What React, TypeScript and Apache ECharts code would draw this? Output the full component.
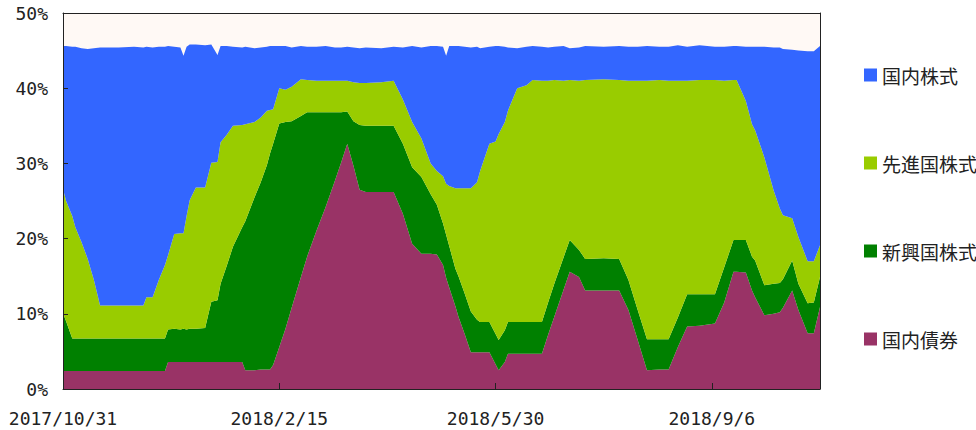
import React, { useEffect, useRef } from "react";
import * as echarts from "echarts";

// x positions are trading-day counts from 2017/10/31
const xTickLabels = ["2017/10/31", "2018/2/15", "2018/5/30", "2018/9/6"];
const seriesNames = ["国内債券", "新興国株式", "先進国株式", "国内株式"];
const legendOrder = ["国内株式", "先進国株式", "新興国株式", "国内債券"];
const colors = ["#993366", "#008000", "#99CC00", "#3366FF"];

const days = [
  0, 1, 3, 4, 6, 8, 10, 12, 18, 23, 26, 27, 29, 31, 33, 34, 36, 38, 39, 40,
  41, 43, 46, 48, 50, 51, 53, 55, 58, 59, 62, 64, 66, 67, 68, 70, 72, 74, 77, 79,
  82, 85, 88, 90, 92, 94, 96, 98, 103, 107, 110, 113, 116, 119, 121, 123, 124, 125, 127, 128,
  130, 132, 134, 135, 138, 140, 141, 143, 144, 147, 150, 152, 155, 157, 159, 162, 164, 167, 169, 175,
  180, 183, 186, 189, 193, 196, 199, 202, 206, 211, 214, 217, 218, 221, 223, 224, 227, 230, 232, 233,
  236, 238, 241, 243, 245,
];

const domesticBonds = [
  2.4, 2.4, 2.4, 2.4, 2.4, 2.4, 2.4, 2.4, 2.4, 2.4, 2.4, 2.4, 2.4, 2.4, 2.4, 3.6, 3.6, 3.6, 3.6, 3.6,
  3.6, 3.6, 3.6, 3.6, 3.6, 3.6, 3.6, 3.6, 3.6, 2.5, 2.5, 2.6, 2.6, 2.6, 3.2, 5.6, 8.0, 10.8, 14.9, 17.6,
  21.0, 24.2, 27.7, 30.1, 32.6, 29.7, 26.5, 26.2, 26.2, 26.2, 23.3, 19.3, 18.0, 18.0, 17.9, 16.5, 14.8, 13.5, 11.0, 9.6,
  7.3, 4.9, 4.9, 4.9, 4.9, 3.3, 2.5, 3.6, 4.7, 4.7, 4.7, 4.7, 4.7, 7.2, 9.6, 13.2, 15.6, 14.9, 13.1, 13.1,
  13.1, 10.5, 6.5, 2.5, 2.6, 2.6, 5.6, 8.3, 8.4, 8.7, 11.5, 15.6, 15.6, 15.5, 13.1, 12.2, 9.8, 10.0, 10.2, 10.8,
  13.1, 10.5, 7.4, 7.4, 10.9,
];

const emergingStocks = [
  7.7, 6.6, 4.3, 4.3, 4.3, 4.3, 4.3, 4.3, 4.3, 4.3, 4.3, 4.3, 4.3, 4.3, 4.3, 4.3, 4.4, 4.3, 4.4, 4.3,
  4.4, 4.4, 4.5, 8.0, 8.2, 10.4, 12.8, 15.3, 17.9, 19.8, 23.0, 24.9, 27.2, 28.7, 29.4, 29.7, 27.5, 24.8, 21.4, 19.2,
  15.8, 12.6, 9.1, 6.7, 4.3, 5.9, 8.6, 8.8, 8.8, 8.8, 9.3, 10.2, 10.2, 7.9, 6.6, 5.5, 5.7, 5.5, 5.0, 5.4,
  5.4, 5.4, 4.3, 4.0, 4.0, 4.0, 4.0, 4.2, 4.2, 4.2, 4.2, 4.2, 4.2, 4.3, 4.4, 4.3, 4.2, 3.6, 4.2, 4.3,
  4.2, 4.0, 4.0, 4.1, 4.0, 4.0, 3.9, 4.3, 4.2, 3.9, 4.7, 4.2, 4.2, 4.3, 4.5, 4.9, 4.0, 4.0, 3.9, 3.8,
  4.0, 3.5, 4.0, 4.1, 4.0,
];

const developedStocks = [
  16.5, 16.0, 16.3, 14.8, 12.8, 10.6, 7.8, 4.4, 4.4, 4.4, 4.4, 5.5, 5.5, 7.8, 9.8, 9.9, 12.6, 12.8, 12.7, 15.1,
  17.1, 18.8, 18.7, 18.5, 18.4, 18.8, 17.4, 16.1, 13.6, 12.9, 10.0, 8.6, 7.2, 5.8, 4.6, 4.7, 4.3, 4.6, 4.9, 4.3,
  4.2, 4.2, 4.2, 4.2, 4.1, 5.2, 5.6, 5.7, 5.8, 6.0, 5.9, 6.0, 5.1, 4.1, 4.5, 6.3, 6.8, 8.0, 10.7, 11.7,
  14.0, 16.4, 18.3, 20.1, 23.7, 25.6, 27.4, 27.7, 28.1, 31.1, 31.5, 32.2, 32.1, 29.5, 27.1, 23.5, 21.3, 22.5, 23.8, 23.8,
  23.8, 26.5, 30.5, 34.4, 34.5, 34.4, 31.5, 28.4, 28.5, 28.5, 24.8, 21.3, 21.3, 18.5, 17.6, 17.3, 17.0, 12.4, 9.9, 8.5,
  5.6, 6.2, 5.6, 5.5, 4.2,
];

const domesticStocks = [
  19.0, 20.6, 22.5, 24.0, 25.8, 27.9, 30.8, 34.3, 34.3, 34.4, 34.3, 33.3, 33.2, 31.0, 29.0, 27.8, 24.9, 24.7, 23.6, 22.5,
  20.7, 19.0, 18.9, 15.7, 14.2, 12.8, 11.8, 10.5, 10.3, 10.3, 9.8, 9.3, 8.5, 8.5, 8.4, 5.6, 5.8, 5.2, 4.4, 4.4,
  4.5, 4.6, 4.4, 4.4, 4.5, 4.6, 4.6, 4.7, 4.5, 4.5, 6.9, 10.1, 12.1, 15.6, 16.6, 17.2, 17.0, 18.6, 18.9, 18.9,
  18.8, 18.7, 18.0, 16.3, 12.9, 12.7, 11.7, 10.0, 8.4, 5.3, 5.1, 4.5, 4.5, 4.4, 4.4, 4.6, 4.2, 4.4, 4.5, 4.3,
  4.5, 4.5, 4.5, 4.6, 4.4, 4.5, 4.7, 4.5, 4.6, 4.4, 4.5, 4.5, 4.5, 7.2, 10.3, 11.1, 14.7, 19.0, 21.4, 22.1,
  22.4, 24.8, 27.9, 27.9, 26.5,
];

const seriesValues = [domesticBonds, emergingStocks, developedStocks, domesticStocks];

export default function App() {
  const ref = useRef<HTMLDivElement>(null);

  useEffect(() => {
    if (!ref.current) return;
    const chart = echarts.init(ref.current, null, { renderer: "svg" });
    const labelFont = "'DejaVu Sans Mono', monospace";

    // value first so that ECharts stacks the value (y) dimension, not the day (x)
    const series = seriesNames.map((name, k) => ({
      name,
      type: "line",
      stack: "total",
      symbol: "none",
      showSymbol: false,
      silent: true,
      dimensions: [
        { name: "value", type: "float" },
        { name: "day", type: "float" },
      ],
      encode: { x: 1, y: 0 },
      data: days.map((d, i) => [seriesValues[k][i], d]),
      lineStyle: { width: 0 },
      itemStyle: { color: colors[k] },
      areaStyle: { color: colors[k], opacity: 1 },
      emphasis: { disabled: true },
      z: 2,
    }));

    chart.setOption({
      animation: false,
      backgroundColor: "#ffffff",
      grid: {
        left: 63,
        right: 156,
        top: 13,
        bottom: 41,
        show: true,
        backgroundColor: "#FFF9F5",
        borderWidth: 0,
      },
      legend: {
        orient: "vertical",
        left: 859,
        top: 60,
        itemWidth: 13,
        itemHeight: 13,
        itemGap: 68,
        icon: "rect",
        data: legendOrder,
        selectedMode: false,
        textStyle: {
          fontFamily: "'Noto Sans CJK JP', sans-serif",
          fontSize: 19,
          lineHeight: 20,
          color: "#222",
        },
      },
      xAxis: [
        {
          type: "value",
          min: 0,
          max: 245,
          interval: 70,
          z: 10,
          axisLine: { show: true, lineStyle: { color: "#222", width: 1 } },
          axisTick: { show: true, inside: true, length: 6, lineStyle: { color: "#222" } },
          splitLine: { show: false },
          axisLabel: {
            margin: 20,
            fontFamily: labelFont,
            fontSize: 18,
            color: "#222",
            showMaxLabel: false,
            formatter: (v: number) => (v % 70 === 0 ? xTickLabels[v / 70] ?? "" : ""),
          },
        },
        {
          type: "value",
          position: "top",
          min: 0,
          max: 245,
          z: 10,
          axisLine: { show: true, onZero: false, lineStyle: { color: "#222", width: 1 } },
          axisTick: { show: false },
          axisLabel: { show: false },
          splitLine: { show: false },
        },
      ],
      yAxis: [
        {
          type: "value",
          min: 0,
          max: 50,
          interval: 10,
          z: 10,
          axisLine: { show: true, lineStyle: { color: "#222", width: 1 } },
          axisTick: { show: true, inside: true, length: 5, lineStyle: { color: "#222" } },
          splitLine: { show: false },
          axisLabel: {
            margin: 15,
            fontFamily: labelFont,
            fontSize: 18,
            color: "#222",
            formatter: "{value}%",
          },
        },
        {
          type: "value",
          position: "right",
          min: 0,
          max: 50,
          z: 10,
          axisLine: { show: true, onZero: false, lineStyle: { color: "#222", width: 1 } },
          axisTick: { show: false },
          axisLabel: { show: false },
          splitLine: { show: false },
        },
      ],
      series,
    });

    return () => chart.dispose();
  }, []);

  return (
    <div
      ref={ref}
      style={{ position: "fixed", left: 0, top: 0, width: 976, height: 430 }}
    />
  );
}
